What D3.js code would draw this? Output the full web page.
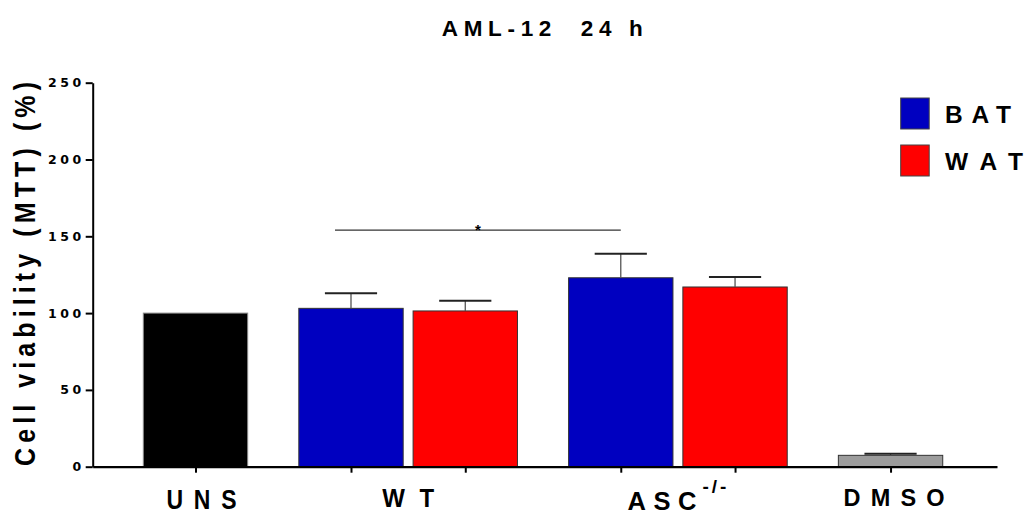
<!DOCTYPE html>
<html lang="en">
<head>
<meta charset="UTF-8">
<title>AML-12 24 h</title>
<script src="https://d3js.org/d3.v7.min.js"></script>
<style>
  body { margin: 0; background: #fff; }
  svg { display: block; }
  text { font-family: Arial, "Liberation Sans", sans-serif; font-weight: bold; fill: #000; }
  .ytick text { font-family: "DejaVu Sans", sans-serif; font-size: 12.5px; letter-spacing: 3.5px; }
</style>
</head>
<body>
<div id="chart"></div>
<script>
  // values
  const groupLabels = ["UNS", "WT", "ASC", "DMSO"];
  const barNames = ["UNS", "WT BAT", "WT WAT", "ASC BAT", "ASC WAT", "DMSO"];
  const barGroups = ["UNS", "WT", "WT", "ASC", "ASC", "DMSO"];
  const barSeries = ["UNS", "BAT", "WAT", "BAT", "WAT", "DMSO"];
  const barValues = [100, 103.1, 101.4, 123.0, 117.0, 7.4];
  const barErrors = [0, 9.8, 6.7, 15.7, 6.5, 1.1];
  const legendLabels = ["BAT", "WAT"];
  const yTicks = [0, 50, 100, 150, 200, 250];
  const sigPair = ["WT BAT", "ASC BAT"];
  const sigLevel = 154;
  const sigText = "*";

  const width = 1025, height = 516;
  const color = d3.scaleOrdinal()
    .domain(["UNS", "BAT", "WAT", "DMSO"])
    .range(["#000000", "#0000c0", "#ff0000", "#9c9c9c"]);

  // layout in bar-width units: wide gap between groups, narrow gap inside a group
  const gapStart = 0.485, gapGroup = 0.49, gapInner = 0.095, gapEnd = 0.52;
  let pos = gapStart;
  const barStart = barNames.map((n, i) => {
    if (i > 0) pos += (barGroups[i] === barGroups[i - 1] ? gapInner : gapGroup);
    const s = pos;
    pos += 1;
    return s;
  });
  const total = pos + gapEnd;

  const x = d3.scaleLinear().domain([0, total]).range([92.7, 997]);
  const y = d3.scaleLinear().domain([0, 250]).range([466.7, 82.7]);
  const bw = x(1) - x(0);
  const barCenter = i => x(barStart[i] + 0.5);

  const bars = barNames.map((name, i) => ({
    name, group: barGroups[i], series: barSeries[i], value: barValues[i], err: barErrors[i], i
  }));

  const svg = d3.select("#chart").append("svg").attr("width", width).attr("height", height);

  // title
  svg.append("text")
    .attr("x", 542.3).attr("y", 36)
    .attr("text-anchor", "middle")
    .attr("font-size", 22.5)
    .attr("textLength", 201).attr("lengthAdjust", "spacing")
    .text("AML-12\u00a0\u00a024\u00a0h");

  // y axis label (glyphs a bit taller than wide, as in the figure)
  svg.append("text")
    .attr("transform", "translate(35,274) rotate(-90) scale(1,1.15)")
    .attr("text-anchor", "middle")
    .attr("font-size", 25)
    .attr("textLength", 384).attr("lengthAdjust", "spacing")
    .text("Cell viability (MTT) (%)");

  // bars
  svg.append("g").selectAll("rect")
    .data(bars)
    .join("rect")
    .attr("x", d => x(barStart[d.i]))
    .attr("y", d => y(d.value))
    .attr("width", bw)
    .attr("height", d => y(0) - y(d.value))
    .attr("fill", d => color(d.series))
    .attr("stroke", d => d.series === "UNS" ? "#8a8a8a" : "#333")
    .attr("stroke-width", 1);

  // error bars (upper only)
  const errBars = bars.filter(d => d.err > 0);
  const eg = svg.append("g");
  eg.selectAll("line.stem")
    .data(errBars)
    .join("line")
    .attr("class", "stem")
    .attr("x1", d => barCenter(d.i)).attr("x2", d => barCenter(d.i))
    .attr("y1", d => y(d.value)).attr("y2", d => y(d.value + d.err))
    .attr("stroke", "#555").attr("stroke-width", 1.3);
  eg.selectAll("line.cap")
    .data(errBars)
    .join("line")
    .attr("class", "cap")
    .attr("x1", d => barCenter(d.i) - bw / 4).attr("x2", d => barCenter(d.i) + bw / 4)
    .attr("y1", d => y(d.value + d.err)).attr("y2", d => y(d.value + d.err))
    .attr("stroke", "#222").attr("stroke-width", 2);

  // significance bracket
  const sa = barNames.indexOf(sigPair[0]), sb = barNames.indexOf(sigPair[1]);
  const sx1 = barCenter(sa) - 16, sx2 = barCenter(sb);
  svg.append("line")
    .attr("x1", sx1).attr("x2", sx2)
    .attr("y1", y(sigLevel)).attr("y2", y(sigLevel))
    .attr("stroke", "#333").attr("stroke-width", 1.2);
  svg.append("text")
    .attr("x", (sx1 + sx2) / 2).attr("y", y(sigLevel) + 4.5)
    .attr("text-anchor", "middle")
    .attr("font-size", 15)
    .text(sigText);

  // y axis
  const yAxis = svg.append("g")
    .attr("class", "ytick")
    .attr("transform", `translate(${x(0)},0)`)
    .call(d3.axisLeft(y).tickValues(yTicks).tickSize(7).tickSizeOuter(0).tickPadding(1));
  yAxis.select(".domain").attr("stroke", "#000").attr("stroke-width", 2);
  yAxis.selectAll(".tick line").attr("stroke", "#000").attr("stroke-width", 2);

  // x axis, one tick under each bar
  const xAxis = svg.append("g")
    .attr("transform", `translate(0,${y(0)})`)
    .call(d3.axisBottom(x).tickValues(barStart.map(s => s + 0.5)).tickSize(6).tickSizeOuter(0).tickFormat(""));
  xAxis.select(".domain").attr("stroke", "#000").attr("stroke-width", 2.2);
  xAxis.selectAll(".tick line").attr("stroke", "#000").attr("stroke-width", 2);

  // group labels; sy stretches glyphs vertically like the original export
  const labelStyle = {
    UNS:  { size: 23, sy: 1.2, len: 70, dx: 6, base: 509 },
    WT:   { size: 24, sy: 1.06, len: 52, dx: 0, base: 506.5 },
    ASC:  { size: 25.5, sy: 1.04, len: 69, dx: -16, base: 510 },
    DMSO: { size: 23.5, sy: 1.0, len: 101, dx: 3.5, base: 506 }
  };
  groupLabels.forEach(g => {
    const idx = barGroups.map((b, i) => b === g ? i : -1).filter(i => i >= 0);
    const cx = d3.mean(idx, i => barCenter(i));
    const st = labelStyle[g];
    svg.append("text")
      .attr("transform", `translate(${cx + st.dx},${st.base}) scale(1,${st.sy})`)
      .attr("text-anchor", "middle")
      .attr("font-size", st.size)
      .attr("textLength", st.len).attr("lengthAdjust", "spacing")
      .text(g);
    if (g === "ASC") {
      svg.append("text")
        .attr("x", cx + st.dx + st.len / 2 + 6).attr("y", 493)
        .attr("font-size", 19)
        .attr("textLength", 24).attr("lengthAdjust", "spacing")
        .text("-/-");
    }
  });

  // legend
  const lg = svg.append("g");
  legendLabels.forEach((name, k) => {
    const top = 98 + k * 47;
    lg.append("rect")
      .attr("x", 900.7).attr("y", top)
      .attr("width", 28.5).attr("height", 31)
      .attr("fill", color(name))
      .attr("stroke", "#444").attr("stroke-width", 1);
    lg.append("text")
      .attr("x", 945).attr("y", top + 24.5)
      .attr("font-size", 24.5)
      .attr("textLength", name === "BAT" ? 66 : 78).attr("lengthAdjust", "spacing")
      .text(name);
  });
</script>
</body>
</html>
